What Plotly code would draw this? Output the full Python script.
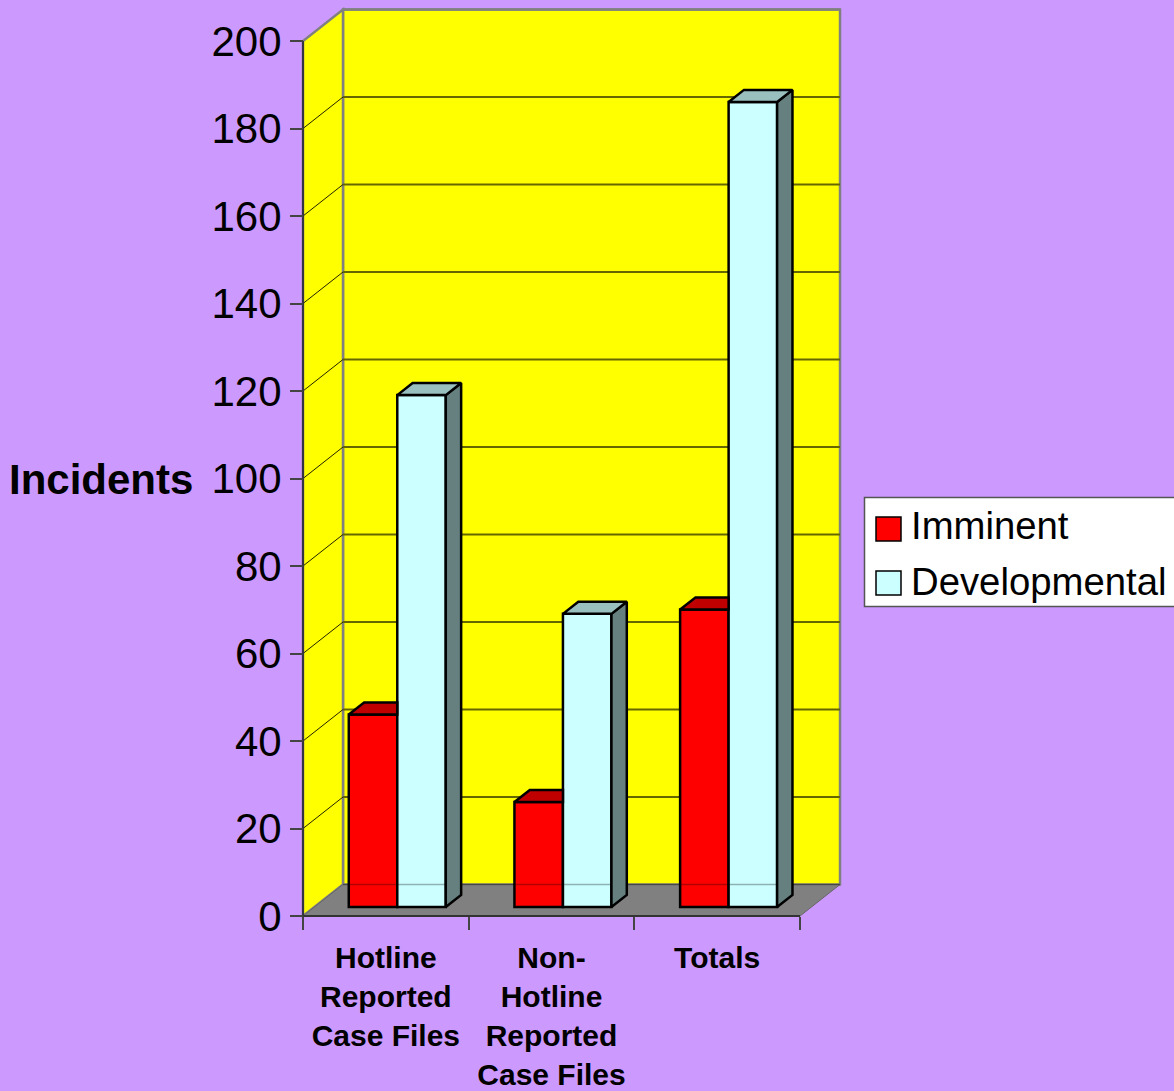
import plotly.graph_objects as go

# Chart data
categories = ["Hotline<br>Reported<br>Case Files", "Non-<br>Hotline<br>Reported<br>Case Files", "Totals"]
imminent = [44, 24, 68]
developmental = [117, 67, 184]
y_ticks = [0, 20, 40, 60, 80, 100, 120, 140, 160, 180, 200]
series_names = ["Imminent", "Developmental"]

WIDTH, HEIGHT = 1174, 1091
PX_X, PX_Y = 165.67, 4.375      # pixels per category / per incident
X0_PX, Y0_PX = 303, 916         # pixel position of the front-left floor corner

# Box depth projected on to the data axes
DEPTH_X, DEPTH_Y = 40 / PX_X, 31.5 / PX_Y
BAR_NEAR, BAR_FAR = 0.286, 0.67
BAR_W = 48.5 / PX_X

BG = "#CC99FF"
WALL = "#FFFF00"
FLOOR = "#808080"
EDGE = "#808080"
GRID = "#666600"
RED, RED_TOP = "#FF0000", "#C00000"
CYAN, CYAN_TOP, CYAN_SIDE = "#CCFFFF", "#99BFBF", "#668080"
FONT = "Liberation Sans"
BAR_EDGE = 2.5

n = len(categories)
top = max(y_ticks)
base = BAR_NEAR * DEPTH_Y
dx = (BAR_FAR - BAR_NEAR) * DEPTH_X
dy = (BAR_FAR - BAR_NEAR) * DEPTH_Y
centres = [i + 0.5 + BAR_NEAR * DEPTH_X for i in range(n)]


def poly(xs, ys, colour):
    return go.Scatter(x=xs, y=ys, mode="lines", fill="toself", fillcolor=colour,
                      line=dict(color="#000000", width=BAR_EDGE), hoverinfo="skip",
                      showlegend=False)


def data_shape(kind, x0, y0, x1, y1, **kw):
    return dict(type=kind, xref="x", yref="y", x0=x0, y0=y0, x1=x1, y1=y1, layer="below", **kw)


fig = go.Figure()

# Front faces
fig.add_trace(go.Bar(x=centres, y=imminent, base=base, width=BAR_W, offset=-BAR_W,
                     name=series_names[0], marker=dict(color=RED, line=dict(color="#000000", width=BAR_EDGE))))
fig.add_trace(go.Bar(x=centres, y=developmental, base=base, width=BAR_W, offset=0,
                     name=series_names[1], marker=dict(color=CYAN, line=dict(color="#000000", width=BAR_EDGE))))

# Floor edge seen faintly through the bars
fig.add_trace(go.Scatter(x=[DEPTH_X, n + DEPTH_X], y=[DEPTH_Y, DEPTH_Y], mode="lines",
                         line=dict(color="rgba(0,0,0,0.3)", width=1.5),
                         hoverinfo="skip", showlegend=False))

# Top and side faces; the red tops stop where the cyan front face begins
for c, red, cyan in zip(centres, imminent, developmental):
    ry, cy = base + red, base + cyan
    right = c + BAR_W
    fig.add_trace(poly([right, right + dx, right + dx, right, right],
                       [cy, cy + dy, base + dy, base, cy], CYAN_SIDE))
    fig.add_trace(poly([c, right, right + dx, c + dx, c],
                       [cy, cy, cy + dy, cy + dy, cy], CYAN_TOP))
    fig.add_trace(poly([c - BAR_W, c, c, c - BAR_W + dx, c - BAR_W],
                       [ry, ry, ry + dy, ry + dy, ry], RED_TOP))

# Box: back wall, side wall and floor
shapes = [
    data_shape("rect", DEPTH_X, DEPTH_Y, n + DEPTH_X, top + DEPTH_Y,
               fillcolor=WALL, line=dict(color=EDGE, width=2.5)),
    data_shape("path", 0, 0, 0, 0, path=f"M 0 0 L {DEPTH_X} {DEPTH_Y} L {DEPTH_X} {top + DEPTH_Y} L 0 {top} Z",
               fillcolor=WALL, line=dict(color=EDGE, width=2.5)),
    data_shape("path", 0, 0, 0, 0, path=f"M 0 0 L {n} 0 L {n + DEPTH_X} {DEPTH_Y} L {DEPTH_X} {DEPTH_Y} Z",
               fillcolor=FLOOR, line=dict(color="#666666", width=1)),
]
for v in y_ticks[1:-1]:
    shapes.append(data_shape("line", DEPTH_X, v + DEPTH_Y, n + DEPTH_X, v + DEPTH_Y,
                             line=dict(color=GRID, width=2)))
    shapes.append(data_shape("line", 0, v, DEPTH_X, v + DEPTH_Y, line=dict(color="#222200", width=1)))
shapes.append(data_shape("line", DEPTH_X, top + DEPTH_Y, n + DEPTH_X, top + DEPTH_Y, line=dict(color=EDGE, width=2.5)))
shapes.append(data_shape("line", 0, 0, 0, top, line=dict(color="#333344", width=2)))
shapes.append(data_shape("line", 0, 0, n, 0, line=dict(color="#333333", width=2)))

# Legend panel
def paper_rect(x0, y0, x1, y1, fill, line, width):
    return dict(type="rect", xref="paper", yref="paper", x0=x0 / WIDTH, x1=x1 / WIDTH,
                y0=1 - y0 / HEIGHT, y1=1 - y1 / HEIGHT, fillcolor=fill,
                line=dict(color=line, width=width), layer="above")


shapes.append(paper_rect(864.5, 497.5, 1176, 606.5, "#FFFFFF", "#555555", 1.5))
shapes.append(paper_rect(876, 517, 901, 541, RED, "#000000", 1.5))
shapes.append(paper_rect(876, 571, 901, 595, CYAN, "#000000", 1.5))

annotations = [
    dict(text="<b>Incidents</b>", xref="paper", yref="paper", x=101 / WIDTH, y=1 - 479 / HEIGHT,
         showarrow=False, xanchor="center", yanchor="middle", font=dict(family=FONT, size=42, color="#000000")),
]
for name, py in zip(series_names, [526, 581]):
    annotations.append(dict(text=name, xref="paper", yref="paper", x=909 / WIDTH, y=1 - py / HEIGHT,
                            showarrow=False, xanchor="left", yanchor="middle",
                            font=dict(family=FONT, size=38.3, color="#000000")))

fig.update_layout(
    width=WIDTH, height=HEIGHT, margin=dict(l=0, r=0, t=0, b=0),
    paper_bgcolor=BG, plot_bgcolor=BG, barmode="overlay", showlegend=False,
    shapes=shapes, annotations=annotations,
    font=dict(family=FONT, color="#000000"),
    xaxis=dict(
        range=[-X0_PX / PX_X, (WIDTH - X0_PX) / PX_X], anchor="free", position=(HEIGHT - Y0_PX) / HEIGHT,
        tickmode="array", tickvals=[i + 0.5 for i in range(n)], ticktext=[f"<b>{c}</b>" for c in categories],
        ticks="outside", ticklen=14.5, tickcolor="rgba(0,0,0,0)", tickfont=dict(family=FONT, size=30),
        minor=dict(tickmode="array", tickvals=list(range(n + 1)), ticks="outside", ticklen=13,
                   tickcolor="#444444", tickwidth=1.5, showgrid=False),
        showgrid=False, zeroline=False, showline=False, tickangle=0,
    ),
    yaxis=dict(
        range=[-(HEIGHT - Y0_PX) / PX_Y, Y0_PX / PX_Y], anchor="free", position=X0_PX / WIDTH,
        tickmode="array", tickvals=y_ticks, ticks="outside", ticklen=13, tickcolor="#444444", tickwidth=1.5,
        tickfont=dict(family=FONT, size=42), showgrid=False, zeroline=False, showline=False,
    ),
)

fig.write_html("out.html")
